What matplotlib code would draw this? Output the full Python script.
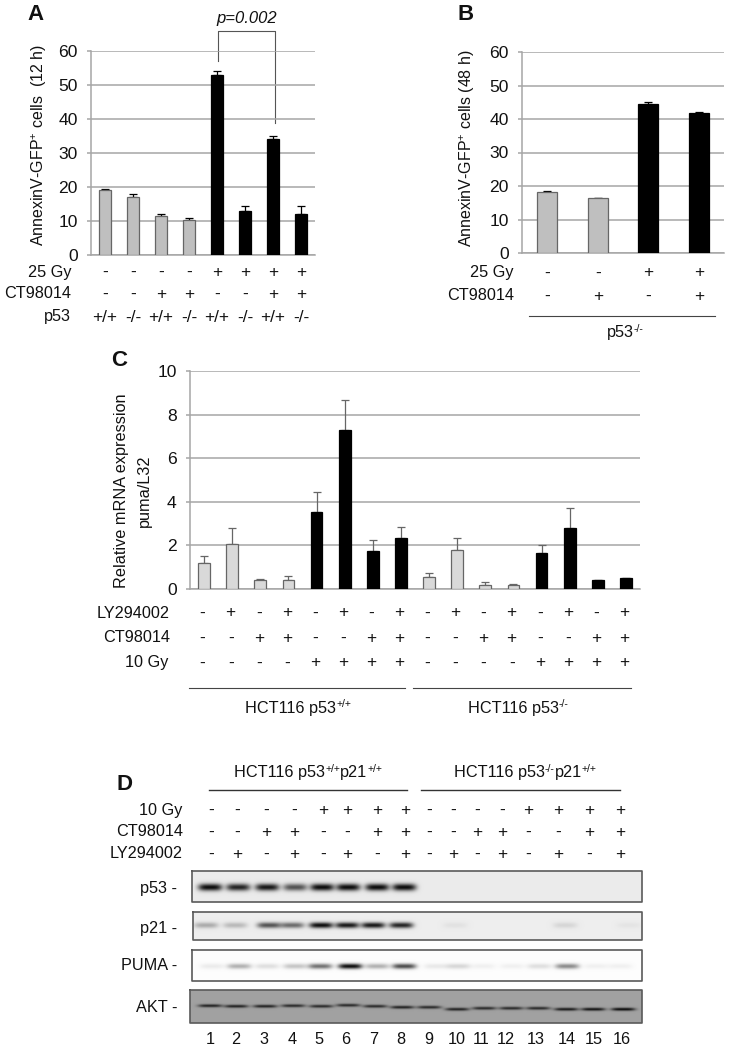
# plot.py - four panel figure: apoptosis bars, puma mRNA bars and western blots

import numpy as np
import matplotlib
matplotlib.use("Agg")
import matplotlib.pyplot as plt

plt.rcParams['font.family'] = ['Liberation Sans', 'DejaVu Sans']
plt.rcParams['mathtext.fontset'] = 'custom'
plt.rcParams['mathtext.rm'] = 'Liberation Sans'
plt.rcParams['mathtext.it'] = 'Liberation Sans:italic'
plt.rcParams['mathtext.default'] = 'regular'

# Panel A
a_values = [19, 17.2, 11.6, 10.3, 53, 13, 34.2, 12]
a_errors = [0.5, 0.8, 0.6, 0.5, 1.2, 1.4, 0.8, 2.4]
a_light = [True, True, True, True, False, False, False, False]
a_gy = ['-', '-', '-', '-', '+', '+', '+', '+']
a_ct = ['-', '-', '+', '+', '-', '-', '+', '+']
a_p53 = ['+/+', '-/-', '+/+', '-/-', '+/+', '-/-', '+/+', '-/-']

# Panel B
b_values = [18.3, 16.3, 44.6, 41.7]
b_errors = [0.3, 0.15, 0.5, 0.4]
b_light = [True, True, False, False]
b_gy = ['-', '-', '+', '+']
b_ct = ['-', '+', '-', '+']

# Panel C
c_values = [1.2, 2.05, 0.4, 0.42, 3.53, 7.3, 1.75, 2.33,
            0.55, 1.77, 0.2, 0.18, 1.65, 2.78, 0.4, 0.52]
c_errors = [0.3, 0.73, 0.07, 0.16, 0.94, 1.35, 0.5, 0.52,
            0.17, 0.58, 0.1, 0.06, 0.35, 0.92, 0, 0]
c_light = ([True] * 4 + [False] * 4) * 2
c_ly = ['-', '+'] * 8
c_ct = ['-', '-', '+', '+'] * 4
c_gy = ['-'] * 4 + ['+'] * 4 + ['-'] * 4 + ['+'] * 4

# Panel D
d_sign_x = [211, 237, 266, 294, 323, 347, 377, 405, 429, 453, 477, 502, 528, 558, 589, 620]
d_lane_numbers = list(range(1, 17))
d_number_x = [210, 236, 264, 292, 319, 346, 374, 401, 429, 457, 481, 506, 536, 567, 594, 622]
p53_x = [210, 238, 267, 295, 322, 348, 377, 404]
p53_level = [0.95, 0.85, 0.9, 0.65, 0.95, 0.95, 0.95, 0.95]
p21_x = [206, 235, 269, 292, 321, 347, 373, 401, 455, 565, 629]
p21_level = [0.28, 0.22, 0.65, 0.55, 0.95, 0.9, 0.9, 0.85, 0.05, 0.1, 0.04]
puma_x = [212, 239, 267, 295, 320, 350, 377, 404, 436, 458, 483, 512, 539, 567, 596, 620]
puma_level = [0.07, 0.3, 0.12, 0.22, 0.55, 0.95, 0.3, 0.7, 0.08, 0.15, 0.05, 0.05, 0.12, 0.45, 0.05, 0.05]
akt_x = [210, 236, 265, 293, 321, 348, 375, 402, 429, 457, 484, 511, 538, 566, 593, 623]
akt_level = [0.8, 0.8, 0.8, 0.75, 0.75, 0.75, 0.75, 0.8, 0.75, 0.8, 0.75, 0.75, 0.75, 0.85, 0.9, 0.95]
akt_y = [1005.5, 1006, 1006, 1005.5, 1006, 1005, 1006, 1007, 1007, 1009, 1008, 1008, 1008, 1009, 1009, 1009]

GRID = '#a6a6a6'
TEXT = '#111111'
W, H = 733, 1050
fig = plt.figure(figsize=(W / 100, H / 100), dpi=100)

# page axes in pixels, used for all the text and the blots
page = fig.add_axes([0, 0, 1, 1], zorder=0)
page.set_xlim(0, W)
page.set_ylim(H, 0)
page.axis('off')


def bar_panel(left, right, top, bottom, values, errors, ymax, step, fill, light, err_color, width):
    ax = fig.add_axes([left / W, 1 - bottom / H, (right - left) / W, (bottom - top) / H],
                      zorder=2, facecolor='none')
    x = np.arange(len(values))
    colors = [fill if is_light else 'black' for is_light in light]
    edges = ['#666666' if is_light else 'black' for is_light in light]
    ax.bar(x, values, width=width, color=colors, edgecolor=edges, linewidth=0.9, zorder=3)
    ax.errorbar(x, values, yerr=[np.zeros(len(values)), errors], fmt='none', ecolor=err_color,
                elinewidth=0.9, capsize=2.6, capthick=0.9, zorder=2)
    ax.set_xlim(-0.5, len(values) - 0.5)
    ax.set_ylim(0, ymax)
    ax.set_yticks(np.arange(0, ymax + 1, step))
    ax.grid(axis='y', color=GRID, linewidth=1.1, zorder=0)
    ax.set_axisbelow(True)
    ax.set_xticks([])
    for side in ['top', 'right']:
        ax.spines[side].set_visible(False)
    for side in ['left', 'bottom']:
        ax.spines[side].set_color(GRID)
        ax.spines[side].set_linewidth(1.1)
    ax.tick_params(axis='y', length=3, color=GRID, width=1.1, labelsize=12.6, pad=6.5, labelcolor=TEXT)
    return ax


def label(x, y, s, ha='center', size=11.7, **kw):
    return page.text(x, y, s, ha=ha, va='center', fontsize=size, color=TEXT, **kw)


def sup_label(xc, y, parts):
    # normal and superscript pieces side by side, so the hyphens stay hyphens
    renderer = fig.canvas.get_renderer()
    items = []
    total = 0
    for s, is_sup in parts:
        t = label(0, y - 4 if is_sup else y, s, ha='left', size=7.5 if is_sup else 11.7)
        w = t.get_window_extent(renderer).width
        items.append((t, w))
        total += w
    xp = xc - total / 2
    for t, w in items:
        t.set_x(xp)
        xp += w


def sign_row(y, xs, signs, name, name_right):
    label(name_right, y, name, ha='right')
    for xp, s in zip(xs, signs):
        label(xp, y, s, size=12.4)


def blot(left, right, top, bottom, background, xs, levels, band_y, band_h, band_w=12.0):
    # build the gel picture from the band levels
    yy, xx = np.mgrid[top:bottom:0.5, left:right:0.5]
    img = np.full(xx.shape, float(background))
    for xp, lev, yp in zip(xs, levels, band_y):
        shape = np.exp(-((xx - xp) / band_w) ** 4) * np.exp(-((yy - yp) / band_h) ** 2)
        img = img * (1 - lev * shape)
    page.imshow(img, cmap='gray', vmin=0, vmax=1, extent=(left, right, bottom, top),
                aspect='auto', interpolation='bilinear', zorder=1)
    page.plot([left, right, right, left, left], [top, top, bottom, bottom, top],
              color='#5a5a5a', linewidth=1.2, zorder=2)


# Panel A
bar_panel(91, 315, 51, 255, a_values, a_errors, 60, 10, '#bfbfbf', a_light, 'black', 0.42)
a_x = [91 + 28 * (i + 0.5) for i in range(8)]
label(36, 15, 'A', size=16, fontweight='bold')
label(39, 145, 'AnnexinV-GFP$^{+}$ cells  (12 h)', rotation=90, size=11.5)
sign_row(272, a_x, a_gy, '25 Gy', 71)
sign_row(294, a_x, a_ct, 'CT98014', 71)
sign_row(317, a_x, a_p53, 'p53', 71)
page.plot([218, 218, 275, 275], [61, 31, 31, 123], color='#555555', linewidth=0.8, zorder=3)
label(247, 19, 'p=0.002', fontstyle='italic', size=12)

# Panel B
bar_panel(522, 724, 52, 253, b_values, b_errors, 60, 10, '#bfbfbf', b_light, 'black', 0.4)
b_x = [522 + 50.5 * (i + 0.5) for i in range(4)]
label(466, 14, 'B', size=16, fontweight='bold')
label(467, 148, 'AnnexinV-GFP$^{+}$ cells (48 h)', rotation=90, size=11.5)
sign_row(273, b_x, b_gy, '25 Gy', 514)
sign_row(296, b_x, b_ct, 'CT98014', 514)
page.plot([529, 715], [316, 316], color='#444444', linewidth=0.8)
sup_label(625, 333, [('p53', False), ('-/-', True)])

# Panel C
bar_panel(190, 640, 371, 589, c_values, c_errors, 10, 2, '#d9d9d9', c_light, '#666666', 0.42)
c_x = [190 + 28.1 * (i + 0.5) - 1.5 for i in range(16)]
label(119, 361, 'C', size=16, fontweight='bold')
label(121.5, 491, 'Relative mRNA expression', rotation=90)
label(144, 491, 'puma/L32', rotation=90)
sign_row(613, c_x, c_ly, 'LY294002', 170)
sign_row(638, c_x, c_ct, 'CT98014', 170)
sign_row(663, c_x, c_gy, '10 Gy', 168)
page.plot([189, 405], [688, 688], color='#444444', linewidth=0.8)
page.plot([413, 631], [688, 688], color='#444444', linewidth=0.8)
sup_label(298, 708, [('HCT116 p53', False), ('+/+', True)])
sup_label(518, 708, [('HCT116 p53', False), ('-/-', True)])

# Panel D
label(124.5, 785, 'D', size=16, fontweight='bold')
sup_label(308, 773, [('HCT116 p53', False), ('+/+', True), ('p21', False), ('+/+', True)])
sup_label(525, 773, [('HCT116 p53', False), ('-/-', True), ('p21', False), ('+/+', True)])
page.plot([209, 407], [790, 790], color='#333333', linewidth=1.0)
page.plot([421, 620], [790, 790], color='#333333', linewidth=1.0)
sign_row(810, d_sign_x, c_gy, '10 Gy', 182)
sign_row(832, d_sign_x, c_ct, 'CT98014', 183)
sign_row(854, d_sign_x, c_ly, 'LY294002', 183)

blot(192, 642, 871, 902, 0.92, p53_x, p53_level, [887] * 8, 3.6)
blot(193, 642, 912, 940, 0.93, p21_x, p21_level, [925] * 11, 2.9)
blot(192, 642, 950, 981, 0.99, puma_x, puma_level, [966] * 16, 2.6)
blot(190, 642, 990, 1023, 0.63, akt_x, akt_level, akt_y, 1.5)
page.set_xlim(0, W)
page.set_ylim(H, 0)

label(177, 888, 'p53 -', ha='right')
label(177, 928, 'p21 -', ha='right')
label(177, 966, 'PUMA -', ha='right')
label(177, 1008, 'AKT -', ha='right')
for xp, n in zip(d_number_x, d_lane_numbers):
    label(xp, 1039, str(n), size=11.7)

fig.savefig("out.png", dpi=100)
